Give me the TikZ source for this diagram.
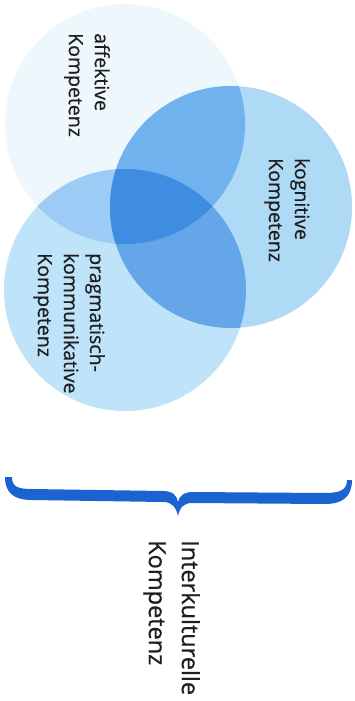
\documentclass[tikz,border=0pt]{standalone}
\usepackage{fontspec}
\setmainfont{Open Sans}
\newfontfamily\labelfont{Open Sans}[FakeBold=0.6]
\usepackage{xcolor}

\definecolor{affcol}{HTML}{EEF7FC}
\definecolor{kogcol}{HTML}{AEDAF6}
\definecolor{pracol}{HTML}{BFE3F8}
\definecolor{akcol}{HTML}{6FB2EE}
\definecolor{apcol}{HTML}{9CCBF5}
\definecolor{kpcol}{HTML}{64A6E8}
\definecolor{allcol}{HTML}{3F8DE0}
\definecolor{bracecol}{HTML}{1B63D1}
\definecolor{txtcol}{HTML}{1E1E1E}

\begin{document}
\begin{tikzpicture}[x=1pt,y=-1pt,
  label/.style={rotate=-90,anchor=north west,align=left,inner sep=0pt,text=txtcol,
    font=\labelfont\fontsize{19.5}{26}\selectfont},
  title/.style={label,font=\labelfont\fontsize{23.5}{33}\selectfont}]
\useasboundingbox[fill=white] (0,0) rectangle (355,701);
% circles
\def\affpath{(125,124) circle[radius=120]}
\def\kogpath{(231,207) circle[radius=121]}
\def\prapath{(125,290) circle[radius=121]}
\fill[affcol] \affpath;
\fill[kogcol] \kogpath;
\fill[pracol] \prapath;
\begin{scope}
  \clip \affpath;
  \fill[akcol] \kogpath;
  \fill[apcol] \prapath;
\end{scope}
\begin{scope}
  \clip \kogpath;
  \fill[kpcol] \prapath;
\end{scope}
\begin{scope}
  \clip \affpath;
  \clip \kogpath;
  \fill[allcol] \prapath;
\end{scope}
% labels
\node[label] (aff) at (110,33) {affektive\\Kompetenz};
\node[label] (kog) at (310,158) {kognitive\\Kompetenz};
\node[label] (pra) at (105,253) {pragmatisch-\\kommunikative\\Kompetenz};
% brace
\fill[bracecol] (12,477) .. controls (12,487) and (18,489) .. (32,489) -- (163,491)
  .. controls (172,491) and (177,495) .. (178,502)
  .. controls (179,496) and (184,492) .. (193,492) -- (325,493)
  .. controls (340,493) and (347,490) .. (347,480) -- (352,480)
  .. controls (352,497) and (342,504) .. (325,504) -- (192,503)
  .. controls (184,503) and (180,507) .. (178,516)
  .. controls (176,507) and (172,502) .. (163,502) -- (32,500)
  .. controls (14,500) and (5,493) .. (5,477) -- cycle;
\node[title] (ik) at (200,540) {Interkulturelle\\Kompetenz};
\end{tikzpicture}
\end{document}
